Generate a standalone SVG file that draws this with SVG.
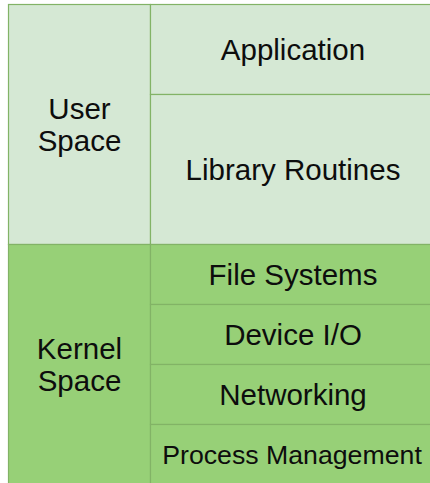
<svg xmlns="http://www.w3.org/2000/svg" width="430" height="483" viewBox="0 0 430 483">
<style>
.u{fill:#d5e8d4;stroke:#82b366;stroke-width:1.2}
.k{fill:#97d077;stroke:#82b366;stroke-width:1.2}
text{font-family:"Liberation Sans",Arial,sans-serif;font-size:29.5px;fill:#0d0d0d;text-anchor:middle}
.sm{font-size:26.7px}
</style>
<rect x="0" y="0" width="430" height="483" fill="#ffffff"/>
<g id="user-space">
<rect class="u" x="8.5" y="4.5" width="142" height="240"/>
<text x="79.5" y="119">User</text>
<text x="79.5" y="150.5">Space</text>
</g>
<g id="application">
<rect class="u" x="150.5" y="4.5" width="290" height="90"/>
<text x="293" y="59.5">Application</text>
</g>
<g id="library-routines">
<rect class="u" x="150.5" y="94.5" width="290" height="150"/>
<text x="293" y="180">Library Routines</text>
</g>
<g id="kernel-space">
<rect class="k" x="8.5" y="244.5" width="142" height="250"/>
<text x="79.5" y="359">Kernel</text>
<text x="79.5" y="390.5">Space</text>
</g>
<g id="file-systems">
<rect class="k" x="150.5" y="244.5" width="290" height="60"/>
<text x="293" y="285">File Systems</text>
</g>
<g id="device-io">
<rect class="k" x="150.5" y="304.5" width="290" height="60"/>
<text x="293" y="345">Device I/O</text>
</g>
<g id="networking">
<rect class="k" x="150.5" y="364.5" width="290" height="60"/>
<text x="293" y="405">Networking</text>
</g>
<g id="process-management">
<rect class="k" x="150.5" y="424.5" width="290" height="70"/>
<text class="sm" x="292" y="464">Process Management</text>
</g>
</svg>
